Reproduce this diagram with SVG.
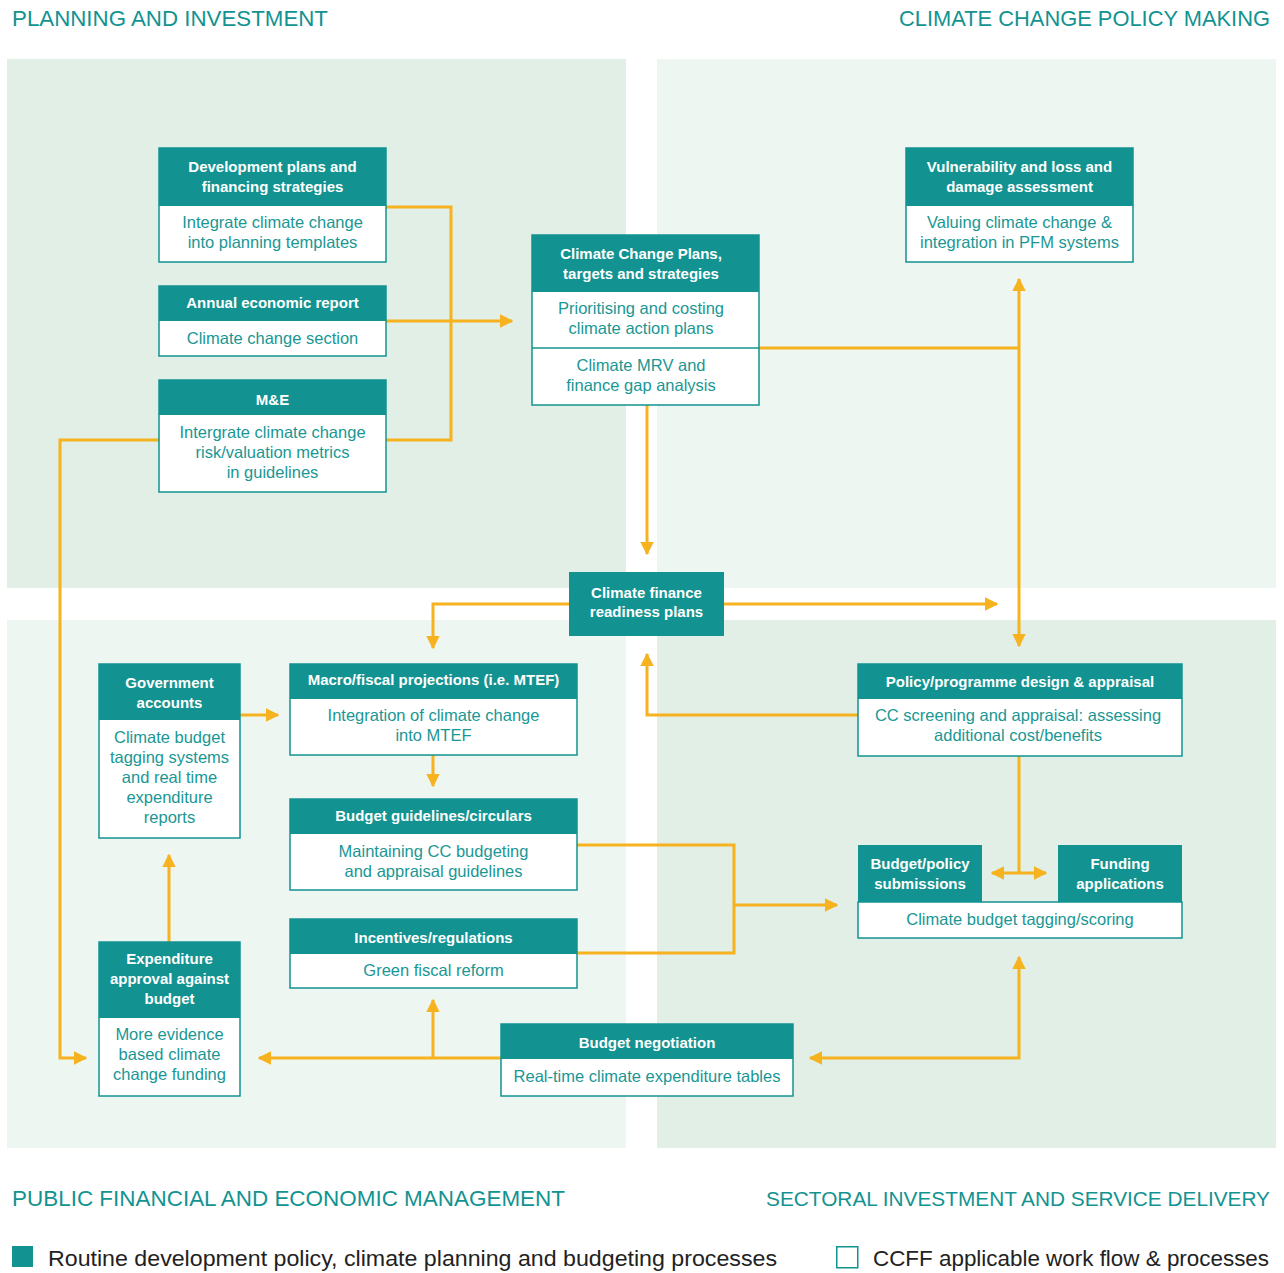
<svg xmlns="http://www.w3.org/2000/svg" width="1284" height="1273" viewBox="0 0 1284 1273">
<style>
.bg{fill:#fff}
.pd{fill:#e2efe6}
.pl{fill:#eef6f1}
.hd{fill:#129391}
.bd{fill:#fff;stroke:#129391;stroke-width:1.5}
.ht{font-family:"Liberation Sans",Arial,sans-serif;font-size:15px;font-weight:bold;fill:#fff;text-anchor:middle}
.bt{font-family:"Liberation Sans",Arial,sans-serif;font-size:16.5px;fill:#1a9794;text-anchor:middle}
.sec{font-family:"Liberation Sans",Arial,sans-serif;font-size:21.5px;fill:#129391}
.lg{font-family:"Liberation Sans",Arial,sans-serif;font-size:22.5px;fill:#222}
.c{fill:none;stroke:#f6b21f;stroke-width:3}
</style>
<defs>
<marker id="ah" viewBox="0 0 10 10" refX="9" refY="5" markerWidth="4.5" markerHeight="4.5" orient="auto-start-reverse" markerUnits="strokeWidth">
<path d="M0,0 L10,5 L0,10 z" fill="#f6b21f"/>
</marker>
</defs>
<rect class="bg" x="0" y="0" width="1284" height="1273"/>
<rect class="pd" x="7" y="59" width="619" height="529"/>
<rect class="pl" x="657" y="59" width="619" height="529"/>
<rect class="pl" x="7" y="620" width="619" height="528"/>
<rect class="pd" x="657" y="620" width="619" height="528"/>

<text class="sec" x="12" y="26" textLength="316" lengthAdjust="spacingAndGlyphs">PLANNING AND INVESTMENT</text>
<text class="sec" x="899" y="26" textLength="371" lengthAdjust="spacingAndGlyphs">CLIMATE CHANGE POLICY MAKING</text>
<text class="sec" x="12" y="1206" textLength="553" lengthAdjust="spacingAndGlyphs">PUBLIC FINANCIAL AND ECONOMIC MANAGEMENT</text>
<text class="sec" x="1270" y="1206" text-anchor="end" style="font-size:20.8px">SECTORAL INVESTMENT AND SERVICE DELIVERY</text>

<g id="connectors">
<path class="c" d="M386,207 H451 V440 H386"/>
<path class="c" d="M386,321 H512" marker-end="url(#ah)"/>
<path class="c" d="M159,440 H60 V1058 H86" marker-end="url(#ah)"/>
<path class="c" d="M759,348 H1019"/>
<path class="c" d="M1019,279 V646" marker-start="url(#ah)" marker-end="url(#ah)"/>
<path class="c" d="M647,405 V554" marker-end="url(#ah)"/>
<path class="c" d="M724,604 H997" marker-end="url(#ah)"/>
<path class="c" d="M569,604 H433 V648" marker-end="url(#ah)"/>
<path class="c" d="M858,715 H647 V654" marker-end="url(#ah)"/>
<path class="c" d="M1019,756 V873"/>
<path class="c" d="M992,873 H1046" marker-start="url(#ah)" marker-end="url(#ah)"/>
<path class="c" d="M433,755 V786" marker-end="url(#ah)"/>
<path class="c" d="M240,715 H278" marker-end="url(#ah)"/>
<path class="c" d="M577,845 H734 V953 H577"/>
<path class="c" d="M734,905 H837" marker-end="url(#ah)"/>
<path class="c" d="M169,942 V855" marker-end="url(#ah)"/>
<path class="c" d="M501,1058 H259" marker-end="url(#ah)"/>
<path class="c" d="M433,1058 V1000" marker-end="url(#ah)"/>
<path class="c" d="M810,1058 H1019 V957" marker-start="url(#ah)" marker-end="url(#ah)"/>
</g>

<g id="dev-plans">
<rect class="bd" x="159" y="148" width="227" height="114"/>
<rect class="hd" x="159" y="148" width="227" height="58"/>
<text class="ht" x="272.5" y="172">Development plans and</text>
<text class="ht" x="272.5" y="192">financing strategies</text>
<text class="bt" x="272.5" y="228">Integrate climate change</text>
<text class="bt" x="272.5" y="248">into planning templates</text>
</g>

<g id="annual-report">
<rect class="bd" x="159" y="286" width="227" height="70"/>
<rect class="hd" x="159" y="286" width="227" height="35"/>
<text class="ht" x="272.5" y="308">Annual economic report</text>
<text class="bt" x="272.5" y="344">Climate change section</text>
</g>

<g id="me">
<rect class="bd" x="159" y="380" width="227" height="112"/>
<rect class="hd" x="159" y="380" width="227" height="35"/>
<text class="ht" x="272.5" y="405">M&amp;E</text>
<text class="bt" x="272.5" y="438">Intergrate climate change</text>
<text class="bt" x="272.5" y="458">risk/valuation metrics</text>
<text class="bt" x="272.5" y="478">in guidelines</text>
</g>

<g id="cc-plans">
<rect class="bd" x="532" y="235" width="227" height="170"/>
<rect class="hd" x="532" y="235" width="227" height="57"/>
<line x1="532" y1="348" x2="759" y2="348" stroke="#129391" stroke-width="1.5"/>
<text class="ht" x="641" y="259">Climate Change Plans,</text>
<text class="ht" x="641" y="279">targets and strategies</text>
<text class="bt" x="641" y="314">Prioritising and costing</text>
<text class="bt" x="641" y="334">climate action plans</text>
<text class="bt" x="641" y="371">Climate MRV and</text>
<text class="bt" x="641" y="391">finance gap analysis</text>
</g>

<g id="vulnerability">
<rect class="bd" x="906" y="148" width="227" height="114"/>
<rect class="hd" x="906" y="148" width="227" height="58"/>
<text class="ht" x="1019.5" y="172">Vulnerability and loss and</text>
<text class="ht" x="1019.5" y="192">damage assessment</text>
<text class="bt" x="1019.5" y="228">Valuing climate change &amp;</text>
<text class="bt" x="1019.5" y="248">integration in PFM systems</text>
</g>

<g id="readiness">
<rect class="hd" x="569" y="572" width="155" height="64"/>
<text class="ht" x="646.5" y="598">Climate finance</text>
<text class="ht" x="646.5" y="617">readiness plans</text>
</g>

<g id="gov-accounts">
<rect class="bd" x="99" y="664" width="141" height="174"/>
<rect class="hd" x="99" y="664" width="141" height="56"/>
<text class="ht" x="169.5" y="688">Government</text>
<text class="ht" x="169.5" y="708">accounts</text>
<text class="bt" x="169.5" y="743">Climate budget</text>
<text class="bt" x="169.5" y="763">tagging systems</text>
<text class="bt" x="169.5" y="783">and real time</text>
<text class="bt" x="169.5" y="803">expenditure</text>
<text class="bt" x="169.5" y="823">reports</text>
</g>

<g id="macro">
<rect class="bd" x="290" y="664" width="287" height="91"/>
<rect class="hd" x="290" y="664" width="287" height="35"/>
<text class="ht" x="433.5" y="685">Macro/fiscal projections (i.e. MTEF)</text>
<text class="bt" x="433.5" y="721">Integration of climate change</text>
<text class="bt" x="433.5" y="741">into MTEF</text>
</g>

<g id="budget-guidelines">
<rect class="bd" x="290" y="799" width="287" height="91"/>
<rect class="hd" x="290" y="799" width="287" height="35"/>
<text class="ht" x="433.5" y="821">Budget guidelines/circulars</text>
<text class="bt" x="433.5" y="857">Maintaining CC budgeting</text>
<text class="bt" x="433.5" y="877">and appraisal guidelines</text>
</g>

<g id="incentives">
<rect class="bd" x="290" y="919" width="287" height="69"/>
<rect class="hd" x="290" y="919" width="287" height="35"/>
<text class="ht" x="433.5" y="943">Incentives/regulations</text>
<text class="bt" x="433.5" y="976">Green fiscal reform</text>
</g>

<g id="expenditure-approval">
<rect class="bd" x="99" y="942" width="141" height="154"/>
<rect class="hd" x="99" y="942" width="141" height="76"/>
<text class="ht" x="169.5" y="964">Expenditure</text>
<text class="ht" x="169.5" y="984">approval against</text>
<text class="ht" x="169.5" y="1004">budget</text>
<text class="bt" x="169.5" y="1040">More evidence</text>
<text class="bt" x="169.5" y="1060">based climate</text>
<text class="bt" x="169.5" y="1080">change funding</text>
</g>

<g id="budget-negotiation">
<rect class="bd" x="501" y="1024" width="292" height="72"/>
<rect class="hd" x="501" y="1024" width="292" height="35"/>
<text class="ht" x="647" y="1048">Budget negotiation</text>
<text class="bt" x="647" y="1082">Real-time climate expenditure tables</text>
</g>

<g id="policy-design">
<rect class="bd" x="858" y="664" width="324" height="92"/>
<rect class="hd" x="858" y="664" width="324" height="35"/>
<text class="ht" x="1020" y="687">Policy/programme design &amp; appraisal</text>
<text class="bt" x="1018" y="721">CC screening and appraisal: assessing</text>
<text class="bt" x="1018" y="741">additional cost/benefits</text>
</g>

<g id="budget-submissions">
<rect class="bd" x="858" y="902" width="324" height="36"/>
<rect class="hd" x="858" y="845" width="124" height="57"/>
<rect class="hd" x="1058" y="845" width="124" height="57"/>
<text class="ht" x="920" y="869">Budget/policy</text>
<text class="ht" x="920" y="889">submissions</text>
<text class="ht" x="1120" y="869">Funding</text>
<text class="ht" x="1120" y="889">applications</text>
<text class="bt" x="1020" y="925">Climate budget tagging/scoring</text>
</g>

<g id="legend">
<rect x="12" y="1246" width="21" height="21" fill="#129391"/>
<text class="lg" x="48" y="1266" textLength="729" lengthAdjust="spacingAndGlyphs">Routine development policy, climate planning and budgeting processes</text>
<rect x="836.75" y="1246.75" width="21" height="21" fill="#fff" stroke="#129391" stroke-width="1.5"/>
<text class="lg" x="873" y="1266" textLength="396" lengthAdjust="spacingAndGlyphs">CCFF applicable work flow &amp; processes</text>
</g>
</svg>
